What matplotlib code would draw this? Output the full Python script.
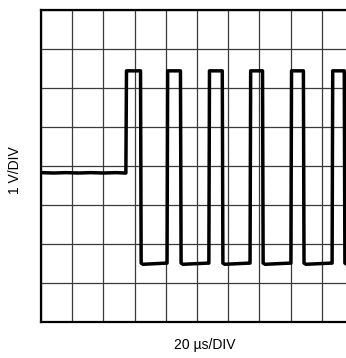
import matplotlib
matplotlib.use("Agg")
import matplotlib.pyplot as plt

plt.rcParams['font.family'] = ['Liberation Sans', 'DejaVu Sans']

# Data (in divisions)
baseline_t = [0.0, 0.4, 0.8, 1.2, 1.6, 2.0, 2.4, 2.7]
baseline_v = [3.83, 3.82, 3.83, 3.82, 3.83, 3.82, 3.83, 3.82]
rise_t = [2.72, 4.04, 5.38, 6.70, 8.01, 9.33]
fall_t = [3.21, 4.49, 5.83, 7.12, 8.43, 9.74]
high_v = 6.44
low_v = 1.51
x_label = "20 µs/DIV"
y_label = "1 V/DIV"

# Build the trace
xs = list(baseline_t)
ys = list(baseline_v)
for i, (r, f) in enumerate(zip(rise_t, fall_t)):
    xs += [r, r + 0.02, f - 0.02, f]
    ys += [ys[-1], high_v, high_v, low_v]
    nxt = rise_t[i + 1] if i + 1 < len(rise_t) else 10.5
    xs += [f + 0.06, nxt - 0.03]
    ys += [low_v - 0.03, low_v]

fig = plt.figure(figsize=(3.46, 3.58), dpi=100)
ax = fig.add_axes([41/346, 36/358, 312/346, 312/358])
ax.set_xlim(0, 10)
ax.set_ylim(0, 8)
ax.set_xticks(range(0, 11))
ax.set_yticks(range(0, 9))
ax.grid(True, color='#3a3a3a', linewidth=0.9)
ax.tick_params(length=0, labelbottom=False, labelleft=False)
for s in ax.spines.values():
    s.set_linewidth(1.6)
    s.set_color('black')
ax.plot(xs, ys, color='black', linewidth=2.5, solid_joinstyle='round', clip_on=True)

fig.text(205/346, 1 - 345/358, x_label, ha='center', va='center', fontsize=10)
fig.text(15/346, 1 - 170/358, y_label, ha='center', va='center', fontsize=10, rotation=90)

fig.savefig("out.png", dpi=100)
